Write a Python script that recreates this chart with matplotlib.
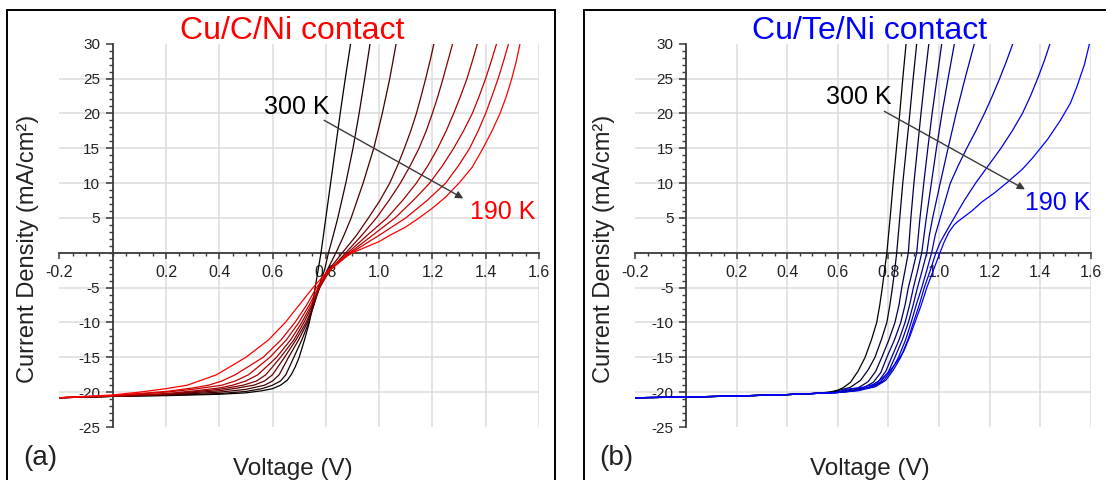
import matplotlib
matplotlib.use("Agg")
import matplotlib.pyplot as plt
from matplotlib.patches import Rectangle
from matplotlib.ticker import MultipleLocator

plt.rcParams['font.family'] = ['Liberation Sans', 'DejaVu Sans']

# ---- axis ticks (the "0" labels are left out, as in the figure)
x_ticks = [-0.2, 0.2, 0.4, 0.6, 0.8, 1.0, 1.2, 1.4, 1.6]
x_labels = ["-0.2", "0.2", "0.4", "0.6", "0.8", "1.0", "1.2", "1.4", "1.6"]
y_ticks = [-25, -20, -15, -10, -5, 5, 10, 15, 20, 25, 30]
y_labels = ["-25", "-20", "-15", "-10", "-5", "5", "10", "15", "20", "25", "30"]

# ---- (a) Cu/C/Ni contact, 300 K (black) ... 190 K (red)
c_volt = [
    [-0.2, 0.0, 0.2, 0.4, 0.5, 0.56, 0.6, 0.63, 0.655, 0.67, 0.685, 0.70, 0.72, 0.738, 0.75, 0.76, 0.771, 0.782, 0.791, 0.800, 0.818, 0.836, 0.854, 0.873, 0.893],
    [-0.2, 0.0, 0.2, 0.4, 0.5, 0.56, 0.60, 0.63, 0.65, 0.68, 0.71, 0.736, 0.755, 0.772, 0.795, 0.81, 0.828, 0.845, 0.875, 0.902, 0.925, 0.946, 0.966],
    [-0.2, 0.0, 0.2, 0.4, 0.5, 0.57, 0.60, 0.625, 0.66, 0.698, 0.731, 0.755, 0.775, 0.805, 0.838, 0.868, 0.895, 0.94, 0.98, 1.012, 1.04, 1.064],
    [-0.2, 0.0, 0.2, 0.4, 0.47, 0.53, 0.57, 0.60, 0.645, 0.688, 0.726, 0.754, 0.777, 0.81, 0.862, 0.915, 0.96, 1.003, 1.04, 1.069, 1.095, 1.119, 1.14, 1.158, 1.175, 1.191, 1.206],
    [-0.2, 0.0, 0.2, 0.4, 0.49, 0.54, 0.575, 0.63, 0.68, 0.718, 0.75, 0.777, 0.815, 0.875, 0.935, 0.99, 1.037, 1.08, 1.117, 1.15, 1.177, 1.20, 1.221, 1.24, 1.258, 1.276],
    [-0.2, 0.0, 0.2, 0.3, 0.4, 0.45, 0.50, 0.545, 0.615, 0.668, 0.71, 0.745, 0.775, 0.815, 0.883, 0.955, 1.03, 1.088, 1.14, 1.183, 1.22, 1.252, 1.28, 1.306, 1.33, 1.35, 1.369],
    [-0.2, 0.0, 0.2, 0.3, 0.41, 0.46, 0.51, 0.59, 0.652, 0.699, 0.738, 0.772, 0.815, 0.89, 0.975, 1.06, 1.128, 1.19, 1.238, 1.28, 1.317, 1.35, 1.376, 1.40, 1.421, 1.441],
    [-0.2, 0.0, 0.2, 0.3, 0.36, 0.41, 0.46, 0.565, 0.632, 0.684, 0.728, 0.765, 0.815, 0.895, 1.0, 1.10, 1.18, 1.25, 1.298, 1.34, 1.372, 1.40, 1.424, 1.447, 1.467, 1.486],
    [-0.2, 0.0, 0.1, 0.2, 0.28, 0.39, 0.50, 0.585, 0.648, 0.70, 0.752, 0.81, 0.85, 0.90, 0.95, 1.0, 1.04, 1.1, 1.15, 1.2, 1.25, 1.30, 1.35, 1.39, 1.424, 1.454, 1.478, 1.498, 1.515, 1.529],
]
c_curr = [
    [-20.8, -20.6, -20.5, -20.3, -20.1, -19.8, -19.5, -19.0, -18.3, -17.5, -16.4, -15, -12.5, -10, -7.5, -5, -2.5, 0, 2.5, 5, 10, 15, 20, 25, 30],
    [-20.8, -20.6, -20.45, -20.2, -19.9, -19.5, -19.0, -18.4, -17.5, -15, -12.5, -10, -7.5, -5, -2.5, 0, 2.5, 5, 10, 15, 20, 25, 30],
    [-20.8, -20.6, -20.4, -20.0, -19.6, -19.0, -18.4, -17.5, -15, -12.5, -10, -7.5, -5, -2.5, 0, 2.5, 5, 10, 15, 20, 25, 30],
    [-20.8, -20.6, -20.35, -19.8, -19.4, -19.0, -18.4, -17.5, -15, -12.5, -10, -7.5, -5, -2.5, 0, 2.5, 5, 7.5, 10, 12.5, 15, 17.5, 20, 22.5, 25, 27.5, 30],
    [-20.8, -20.6, -20.3, -19.6, -19.0, -18.4, -17.5, -15, -12.5, -10, -7.5, -5, -2.5, 0, 2.5, 5, 7.5, 10, 12.5, 15, 17.5, 20, 22.5, 25, 27.5, 30],
    [-20.8, -20.55, -20.2, -19.85, -19.4, -19.0, -18.4, -17.5, -15, -12.5, -10, -7.5, -5, -2.5, 0, 2.5, 5, 7.5, 10, 12.5, 15, 17.5, 20, 22.5, 25, 27.5, 30],
    [-20.8, -20.5, -20.0, -19.6, -19.0, -18.4, -17.5, -15, -12.5, -10, -7.5, -5, -2.5, 0, 2.5, 5, 7.5, 10, 12.5, 15, 17.5, 20, 22.5, 25, 27.5, 30],
    [-20.8, -20.5, -19.9, -19.4, -19.0, -18.4, -17.5, -15, -12.5, -10, -7.5, -5, -2.5, 0, 2.5, 5, 7.5, 10, 12.5, 15, 17.5, 20, 22.5, 25, 27.5, 30],
    [-20.8, -20.4, -20.0, -19.5, -19.0, -17.5, -15, -12.5, -10, -7.5, -5, -2.5, -1.2, 0, 0.8, 1.6, 2.5, 3.7, 5, 6.4, 8.0, 10, 12.3, 15, 17.5, 20, 22.5, 25, 27.5, 30],
]

# ---- (b) Cu/Te/Ni contact: shared reverse part, then one forward part per curve
te_rev_volt = [-0.2, 0.0, 0.2, 0.4, 0.5]
te_rev_curr = [-20.8, -20.7, -20.55, -20.35, -20.2]
te_volt = [
    [0.55, 0.58, 0.60, 0.62, 0.65, 0.68, 0.708, 0.733, 0.754, 0.766, 0.776, 0.785, 0.794, 0.807, 0.819, 0.832, 0.845, 0.857, 0.870],
    [0.57, 0.60, 0.65, 0.69, 0.72, 0.747, 0.772, 0.794, 0.806, 0.816, 0.825, 0.833, 0.845, 0.857, 0.871, 0.885, 0.898, 0.912],
    [0.58, 0.62, 0.68, 0.72, 0.75, 0.774, 0.802, 0.826, 0.842, 0.853, 0.866, 0.879, 0.889, 0.901, 0.915, 0.929, 0.944, 0.960],
    [0.59, 0.64, 0.70, 0.74, 0.77, 0.794, 0.824, 0.849, 0.866, 0.879, 0.896, 0.912, 0.925, 0.94, 0.956, 0.973, 0.992, 1.011],
    [0.60, 0.65, 0.72, 0.76, 0.79, 0.813, 0.842, 0.866, 0.884, 0.899, 0.916, 0.932, 0.95, 0.97, 0.99, 1.012, 1.036, 1.061],
    [0.60, 0.66, 0.73, 0.77, 0.80, 0.826, 0.855, 0.879, 0.898, 0.915, 0.934, 0.952, 0.962, 0.975, 1.005, 1.036, 1.068, 1.103, 1.140],
    [0.60, 0.67, 0.74, 0.78, 0.81, 0.840, 0.868, 0.890, 0.91, 0.932, 0.952, 0.971, 0.985, 1.005, 1.025, 1.045, 1.076, 1.11, 1.146, 1.18, 1.211, 1.24, 1.267, 1.292],
    [0.60, 0.68, 0.75, 0.79, 0.82, 0.849, 0.877, 0.899, 0.922, 0.942, 0.966, 0.988, 1.005, 1.025, 1.06, 1.10, 1.145, 1.195, 1.245, 1.29, 1.33, 1.362, 1.39, 1.416, 1.439],
    [0.60, 0.63, 0.70, 0.74, 0.77, 0.80, 0.83, 0.86, 0.885, 0.905, 0.93, 0.952, 0.978, 1.004, 1.02, 1.04, 1.06, 1.075, 1.09, 1.13, 1.17, 1.22, 1.27, 1.33, 1.37, 1.43, 1.48, 1.52, 1.545, 1.575, 1.595],
]
te_curr = [
    [-20.05, -19.9, -19.7, -19.4, -18.6, -17.0, -15, -12.5, -10, -7.5, -5, -2.5, 0, 5, 10, 15, 20, 25, 30],
    [-20.05, -19.8, -19.3, -18.3, -16.8, -15, -12.5, -10, -7.5, -5, -2.5, 0, 5, 10, 15, 20, 25, 30],
    [-20.05, -19.85, -19.4, -18.5, -17.0, -15, -12.5, -10, -7.5, -5, -2.5, 0, 5, 10, 15, 20, 25, 30],
    [-20.05, -19.85, -19.4, -18.6, -17.2, -15, -12.5, -10, -7.5, -5, -2.5, 0, 5, 10, 15, 20, 25, 30],
    [-20.05, -19.85, -19.35, -18.5, -17.0, -15, -12.5, -10, -7.5, -5, -2.5, 0, 5, 10, 15, 20, 25, 30],
    [-20.05, -19.8, -19.3, -18.5, -17.1, -15, -12.5, -10, -7.5, -5, -2.5, 0, 2.5, 5, 10, 15, 20, 25, 30],
    [-20.05, -19.8, -19.25, -18.4, -17.0, -15, -12.5, -10, -7.5, -5, -2.5, 0, 2.5, 5, 7.5, 10, 12.5, 15, 17.5, 20, 22.5, 25, 27.5, 30],
    [-20.05, -19.8, -19.2, -18.3, -16.8, -15, -12.5, -10, -7.5, -5, -2.5, 0, 1.5, 2.8, 5, 7.5, 10, 12.5, 15, 17.5, 20, 22.5, 25, 27.5, 30],
    [-20.05, -19.6, -19.3, -18.9, -18.2, -17.2, -15.8, -14.2, -12, -10, -7.5, -5, -2.5, 0, 1.5, 3.0, 4.0, 4.5, 4.9, 6.0, 7.3, 8.6, 10.1, 12, 13.6, 16.3, 19.0, 21.5, 23.8, 27, 30],
]


def style_axes(ax):
    ax.set_xlim(-0.2, 1.6)
    ax.set_ylim(-25, 30)
    for s in ("top", "right"):
        ax.spines[s].set_visible(False)
    ax.spines["left"].set_position(("data", 0))
    ax.spines["bottom"].set_position(("data", 0))
    for s in ("left", "bottom"):
        ax.spines[s].set_linewidth(1.3)
        ax.spines[s].set_color("#3a3a3a")
        ax.spines[s].set_zorder(1)
    ax.set_xticks(x_ticks, labels=x_labels)
    ax.set_yticks(y_ticks, labels=y_labels)
    ax.xaxis.set_minor_locator(MultipleLocator(0.05))
    ax.yaxis.set_minor_locator(MultipleLocator(1))
    ax.tick_params(axis="x", which="major", direction="out", length=4.5, width=1.1,
                   color="#3a3a3a", pad=4, labelsize=11.5, labelcolor="#222222")
    ax.tick_params(axis="x", which="minor", direction="out", length=2.5, width=1.0, color="#3a3a3a")
    ax.tick_params(axis="y", which="major", direction="out", length=5, width=1.1,
                   color="#3a3a3a", pad=4, labelsize=11, labelcolor="#222222")
    ax.tick_params(axis="y", which="minor", direction="out", length=3, width=1.0, color="#3a3a3a")
    ax.hlines([-20, -15, -10, -5, 5, 10, 15, 20, 25], -0.2, 1.6, color="#dcdcdc", lw=1.1, zorder=0)
    ax.vlines([0.2, 0.4, 0.6, 0.8, 1.0, 1.2, 1.4, 1.6], -25, 30, color="#dcdcdc", lw=1.1, zorder=0)
    ax.set_axisbelow(True)


fig = plt.figure(figsize=(11.06, 4.8), dpi=100)

# panel frames
fig.add_artist(Rectangle((0.0066, -0.05), 0.4952, 1.0285, transform=fig.transFigure,
                         fill=False, ec="black", lw=1.4))
fig.add_artist(Rectangle((0.5278, -0.05), 0.55, 1.0285, transform=fig.transFigure,
                         fill=False, ec="black", lw=1.4))

ax1 = fig.add_axes([0.0537, 0.1104, 0.4336, 0.7986])
ax2 = fig.add_axes([0.5745, 0.1104, 0.4117, 0.7986])
style_axes(ax1)
style_axes(ax2)

n = len(c_volt)
for k in range(n):
    f = k / (n - 1)
    ax1.plot(c_volt[k], c_curr[k], color=(f, 0, 0), lw=0.9, zorder=2 + f)
n = len(te_volt)
for k in range(n):
    f = k / (n - 1)
    ax2.plot(te_rev_volt + te_volt[k], te_rev_curr + te_curr[k], color=(0, 0, f), lw=0.9, zorder=2 + f)

arrow = dict(arrowstyle="-|>", color="#3a3a3a", lw=1.0, mutation_scale=11, shrinkA=0, shrinkB=0)
ax1.annotate("", xy=(1.316, 7.8), xytext=(0.794, 19.0), arrowprops=arrow)
ax1.text(0.692, 20.9, "300 K", fontsize=18, ha="center", va="center", color="black")
ax1.text(1.465, 5.8, "190 K", fontsize=18, ha="center", va="center", color="#ff0000")
ax2.annotate("", xy=(1.340, 9.1), xytext=(0.784, 20.3), arrowprops=arrow)
ax2.text(0.684, 22.3, "300 K", fontsize=18, ha="center", va="center", color="black")
ax2.text(1.471, 7.1, "190 K", fontsize=18, ha="center", va="center", color="#0000ff", clip_on=False)

fig.text(0.264, 0.935, "Cu/C/Ni contact", fontsize=23, color="#ff0000", ha="center", va="center")
fig.text(0.786, 0.935, "Cu/Te/Ni contact", fontsize=23, color="#0000ff", ha="center", va="center")

for xc in (0.0253, 0.546):
    fig.text(xc, 0.482, "Current Density (mA/cm²)", fontsize=17, rotation=90,
             ha="center", va="center", color="#222222")
fig.text(0.265, 0.0104, "Voltage (V)", fontsize=17.5, ha="center", va="baseline", color="#222222")
fig.text(0.786, 0.0104, "Voltage (V)", fontsize=17.5, ha="center", va="baseline", color="#222222")
fig.text(0.0362, 0.031, "(a)", fontsize=20, ha="center", va="baseline", color="#222222")
fig.text(0.557, 0.031, "(b)", fontsize=20, ha="center", va="baseline", color="#222222")

fig.savefig("out.png", dpi=100)
